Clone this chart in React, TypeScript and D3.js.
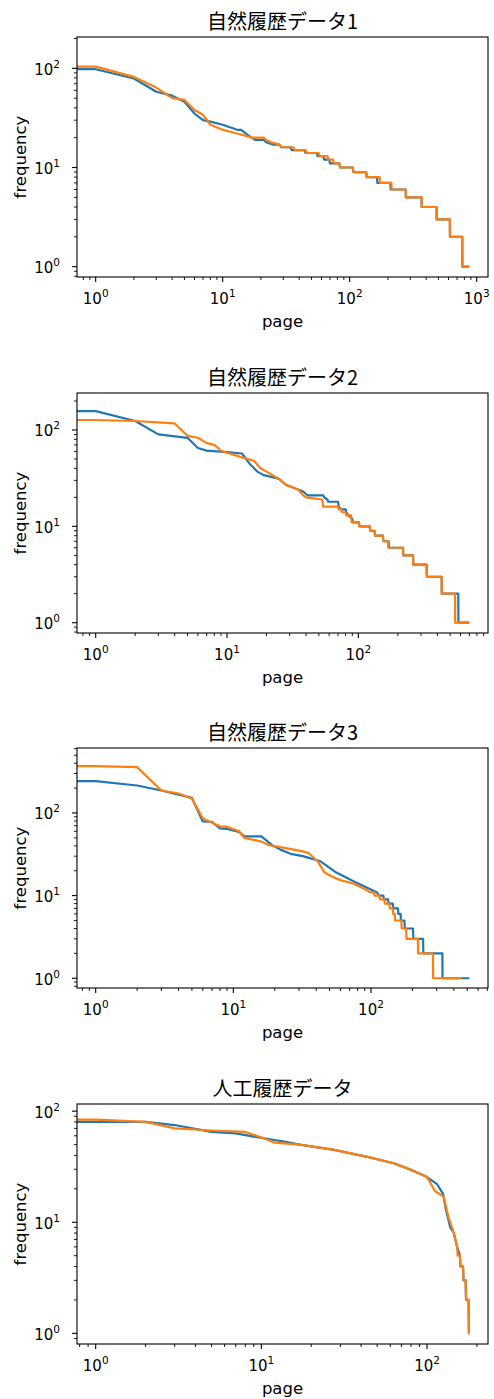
import React, { useEffect, useRef } from 'react';
import * as d3 from 'd3';

// 順位 (page) と出現回数 (frequency) の組
type Pt = [number, number];

const titles = ['自然履歴データ1', '自然履歴データ2', '自然履歴データ3', '人工履歴データ'];

const nat1Blue: Pt[] = [
  [1, 98], [2, 79], [3, 58], [4, 53], [5, 46], [6, 35], [7, 30], [8, 29], [10, 27], [13, 24], [14, 24],
  [16, 21], [18, 19], [21, 19], [22, 18], [25, 17], [28, 17], [29, 16], [34, 16], [35, 15], [44, 15],
  [45, 14], [55, 14], [56, 13], [62, 13], [63, 12], [69, 12], [70, 11], [83, 11], [84, 10], [106, 10],
  [107, 9], [135, 9], [136, 8], [164, 8], [165, 7], [209, 7], [210, 6], [276, 6], [277, 5], [368, 5],
  [369, 4], [483, 4], [484, 3], [615, 3], [616, 2], [770, 2], [771, 1], [875, 1],
];
const nat1Orange: Pt[] = [
  [1, 104], [2, 82], [3, 64], [4, 50], [5, 48], [6, 38], [7, 34], [8, 27], [10, 24], [13, 22], [17, 20],
  [21, 20], [22, 19], [24, 18], [28, 17], [29, 16], [36, 16], [37, 15], [45, 15], [46, 14], [57, 14],
  [58, 13], [67, 13], [68, 12], [74, 12], [75, 11], [83, 11], [84, 10], [106, 10], [107, 9], [135, 9],
  [136, 8], [172, 8], [173, 7], [213, 7], [214, 6], [276, 6], [277, 5], [368, 5], [369, 4], [483, 4],
  [484, 3], [615, 3], [616, 2], [770, 2], [771, 1], [875, 1],
];

const nat2Blue: Pt[] = [
  [1, 157], [2, 124], [3, 90], [5, 83], [6, 65], [7, 61], [10, 59], [13, 57], [15, 44], [17, 37], [19, 34],
  [23, 32], [25, 31], [28, 27], [38, 23], [41, 21], [54, 21], [55, 20], [58, 19], [59, 18], [70, 18],
  [71, 16], [74, 15], [80, 15], [81, 14], [84, 13], [90, 12], [91, 11], [101, 11], [102, 10], [122, 10],
  [123, 9], [133, 9], [134, 8], [154, 8], [155, 7], [170, 7], [171, 6], [219, 6], [220, 5], [261, 5],
  [262, 4], [331, 4], [332, 3], [431, 3], [432, 2], [577, 2], [578, 1], [700, 1],
];
const nat2Orange: Pt[] = [
  [1, 127], [2, 124], [4, 117], [5, 87], [6, 83], [7, 73], [8, 70], [9, 61], [10, 58], [13, 52], [16, 48],
  [18, 40], [20, 37], [23, 33], [25, 31], [28, 27], [35, 24], [38, 21], [40, 20], [53, 19], [54, 16],
  [70, 16], [71, 15], [74, 15], [75, 14], [80, 14], [81, 13], [88, 13], [89, 11], [101, 11], [102, 10],
  [122, 10], [123, 9], [133, 9], [134, 8], [154, 8], [155, 7], [168, 7], [169, 6], [219, 6], [220, 5],
  [261, 5], [262, 4], [331, 4], [332, 3], [431, 3], [432, 2], [545, 2], [546, 1], [700, 1],
];

const nat3Blue: Pt[] = [
  [1, 243], [2, 215], [3, 187], [5, 152], [6, 79], [7, 78], [8, 65], [9, 64], [11, 59], [12, 52], [16, 52],
  [17, 48], [19, 41], [22, 36], [26, 32], [32, 30], [43, 26], [56, 19], [74, 15], [98, 12], [110, 11],
  [115, 10], [123, 10], [124, 9], [133, 9], [134, 8], [144, 8], [145, 7], [157, 7], [158, 6], [164, 6],
  [165, 5], [175, 5], [176, 4], [202, 4], [203, 3], [239, 3], [240, 2], [330, 2], [331, 1], [518, 1],
];
const nat3Orange: Pt[] = [
  [1, 369], [2, 359], [3, 187], [4, 172], [5, 150], [6, 86], [7, 76], [8, 69], [9, 68], [11, 60], [12, 50],
  [16, 45], [18, 41], [23, 38], [30, 35], [35, 33], [41, 26], [46, 19], [52, 17], [59, 15.5], [74, 14],
  [90, 12], [98, 11], [105, 11], [106, 10], [115, 10], [116, 9], [125, 9], [126, 8], [136, 8], [137, 7],
  [144, 7], [145, 6], [149, 6], [150, 5], [166, 5], [167, 4], [180, 4], [181, 3], [219, 3], [220, 2],
  [282, 2], [283, 1], [455, 1],
];

const artBlue: Pt[] = [
  [1, 80], [2, 80], [3, 75], [5, 65], [7, 63], [9, 59], [12, 55], [14, 53], [17, 50], [27, 45], [43, 39],
  [63, 34], [83, 29], [100, 25.5], [115, 22], [125, 18], [130, 13], [138, 9], [145, 8], [152, 6], [158, 5],
  [159, 4], [165, 4], [166, 3], [171, 3], [172, 2], [178, 2], [179, 1], [180, 1],
];
const artOrange: Pt[] = [
  [1, 84], [2, 80], [3, 70], [5, 67], [8, 65], [10, 58], [11, 55], [12, 52], [17, 50], [27, 45], [43, 39],
  [63, 34], [83, 29], [100, 25.5], [112, 19], [126, 17], [135, 11], [145, 8], [152, 6], [153, 5], [158, 5],
  [159, 4], [165, 4], [166, 3], [171, 3], [172, 2], [178, 2], [179, 1], [180, 1],
];

// y軸の表示範囲 (読み取り値)
const yDomains: [number, number][] = [[0.787, 207], [0.782, 242], [0.762, 611], [0.802, 116]];

const blueSeries = [nat1Blue, nat2Blue, nat3Blue, artBlue];
const orangeSeries = [nat1Orange, nat2Orange, nat3Orange, artOrange];

// レイアウト
const W = 494;
const H = 1399;
const frameLeft = 77;
const frameRight = 488;
const frameH = 240;
const panelTops = [37, 393, 748, 1104];

const BLUE = '#1f77b4';
const ORANGE = '#ff7f0e';
const FONT = '"DejaVu Sans", sans-serif';
const TICK_FS = 15;

function logTicks(domain: number[]) {
  const [a, b] = domain;
  const majors: number[] = [];
  const minors: number[] = [];
  for (let k = Math.floor(Math.log10(a)) - 1; k <= Math.ceil(Math.log10(b)); k++) {
    for (let j = 1; j < 10; j++) {
      const v = j * Math.pow(10, k);
      if (v >= a * 0.9999 && v <= b * 1.0001) (j === 1 ? majors : minors).push(v);
    }
  }
  return { majors, minors };
}

export default function App() {
  const svgRef = useRef<SVGSVGElement>(null);

  useEffect(() => {
    document.body.style.margin = '0';
    const svg = d3.select(svgRef.current);
    svg.selectAll('*').remove();

    titles.forEach((title, i) => {
      const top = panelTops[i];
      const bottom = top + frameH;
      const blue = blueSeries[i];
      const orange = orangeSeries[i];

      // matplotlib 風に log 空間で 5% の余白
      const maxRank = d3.max([...blue, ...orange], d => d[0]) as number;
      const L = Math.log10(maxRank);
      const x = d3.scaleLog().domain([Math.pow(10, -0.05 * L), Math.pow(10, 1.05 * L)]).range([frameLeft, frameRight]);
      const y = d3.scaleLog().domain(yDomains[i]).range([bottom, top]);

      const g = svg.append('g');

      const clipId = `clip-${i}`;
      g.append('clipPath').attr('id', clipId)
        .append('rect').attr('x', frameLeft).attr('y', top).attr('width', frameRight - frameLeft).attr('height', frameH);

      // x=0 の点はログ軸の左端へ水平に伸びる
      const line = d3.line<Pt>().x(d => x(d[0])).y(d => y(d[1]));
      [[blue, BLUE], [orange, ORANGE]].forEach(([data, color]) => {
        const pts = data as Pt[];
        const withEdge: Pt[] = [[x.domain()[0] * 0.5, pts[0][1]], ...pts];
        g.append('path')
          .attr('d', line(withEdge))
          .attr('clip-path', `url(#${clipId})`)
          .attr('fill', 'none')
          .attr('stroke', color as string)
          .attr('stroke-width', 2.2)
          .attr('stroke-linejoin', 'round');
      });

      // 枠
      g.append('rect')
        .attr('x', frameLeft).attr('y', top)
        .attr('width', frameRight - frameLeft).attr('height', frameH)
        .attr('fill', 'none').attr('stroke', '#000').attr('stroke-width', 1.1);

      // x 目盛り
      const xt = logTicks(x.domain());
      xt.minors.forEach(v => {
        g.append('line').attr('x1', x(v)).attr('x2', x(v)).attr('y1', bottom).attr('y2', bottom + 3)
          .attr('stroke', '#000').attr('stroke-width', 0.9);
      });
      xt.majors.forEach(v => {
        g.append('line').attr('x1', x(v)).attr('x2', x(v)).attr('y1', bottom).attr('y2', bottom + 5)
          .attr('stroke', '#000').attr('stroke-width', 1.1);
        const t = g.append('text').attr('x', x(v)).attr('y', bottom + 27)
          .attr('text-anchor', 'middle').attr('font-family', FONT).attr('font-size', TICK_FS).attr('fill', '#000');
        t.append('tspan').text('10');
        t.append('tspan').attr('dy', -7).attr('font-size', TICK_FS * 0.7).text(String(Math.round(Math.log10(v))));
      });

      // y 目盛り
      const yt = logTicks(y.domain());
      yt.minors.forEach(v => {
        g.append('line').attr('x1', frameLeft - 3).attr('x2', frameLeft).attr('y1', y(v)).attr('y2', y(v))
          .attr('stroke', '#000').attr('stroke-width', 0.9);
      });
      yt.majors.forEach(v => {
        g.append('line').attr('x1', frameLeft - 5).attr('x2', frameLeft).attr('y1', y(v)).attr('y2', y(v))
          .attr('stroke', '#000').attr('stroke-width', 1.1);
        const t = g.append('text').attr('x', 60).attr('y', y(v) + 6.5)
          .attr('text-anchor', 'end').attr('font-family', FONT).attr('font-size', TICK_FS).attr('fill', '#000');
        t.append('tspan').text('10');
        t.append('tspan').attr('dy', -7).attr('font-size', TICK_FS * 0.7).text(String(Math.round(Math.log10(v))));
      });

      // ラベルとタイトル
      g.append('text').attr('x', (frameLeft + frameRight) / 2).attr('y', bottom + 49.5)
        .attr('text-anchor', 'middle').attr('font-family', FONT).attr('font-size', 16.5).attr('fill', '#000')
        .text('page');
      g.append('text')
        .attr('transform', `translate(26, ${top + frameH / 2}) rotate(-90)`)
        .attr('text-anchor', 'middle').attr('font-family', FONT).attr('font-size', 16.5).attr('fill', '#000')
        .text('frequency');
      g.append('text').attr('x', (frameLeft + frameRight) / 2).attr('y', top - 8)
        .attr('text-anchor', 'middle').attr('font-family', '"Noto Sans CJK JP", sans-serif')
        .attr('font-size', 20).attr('fill', '#000')
        .text(title);
    });
  }, []);

  return <svg ref={svgRef} width={W} height={H} style={{ display: 'block', background: '#fff' }} />;
}
